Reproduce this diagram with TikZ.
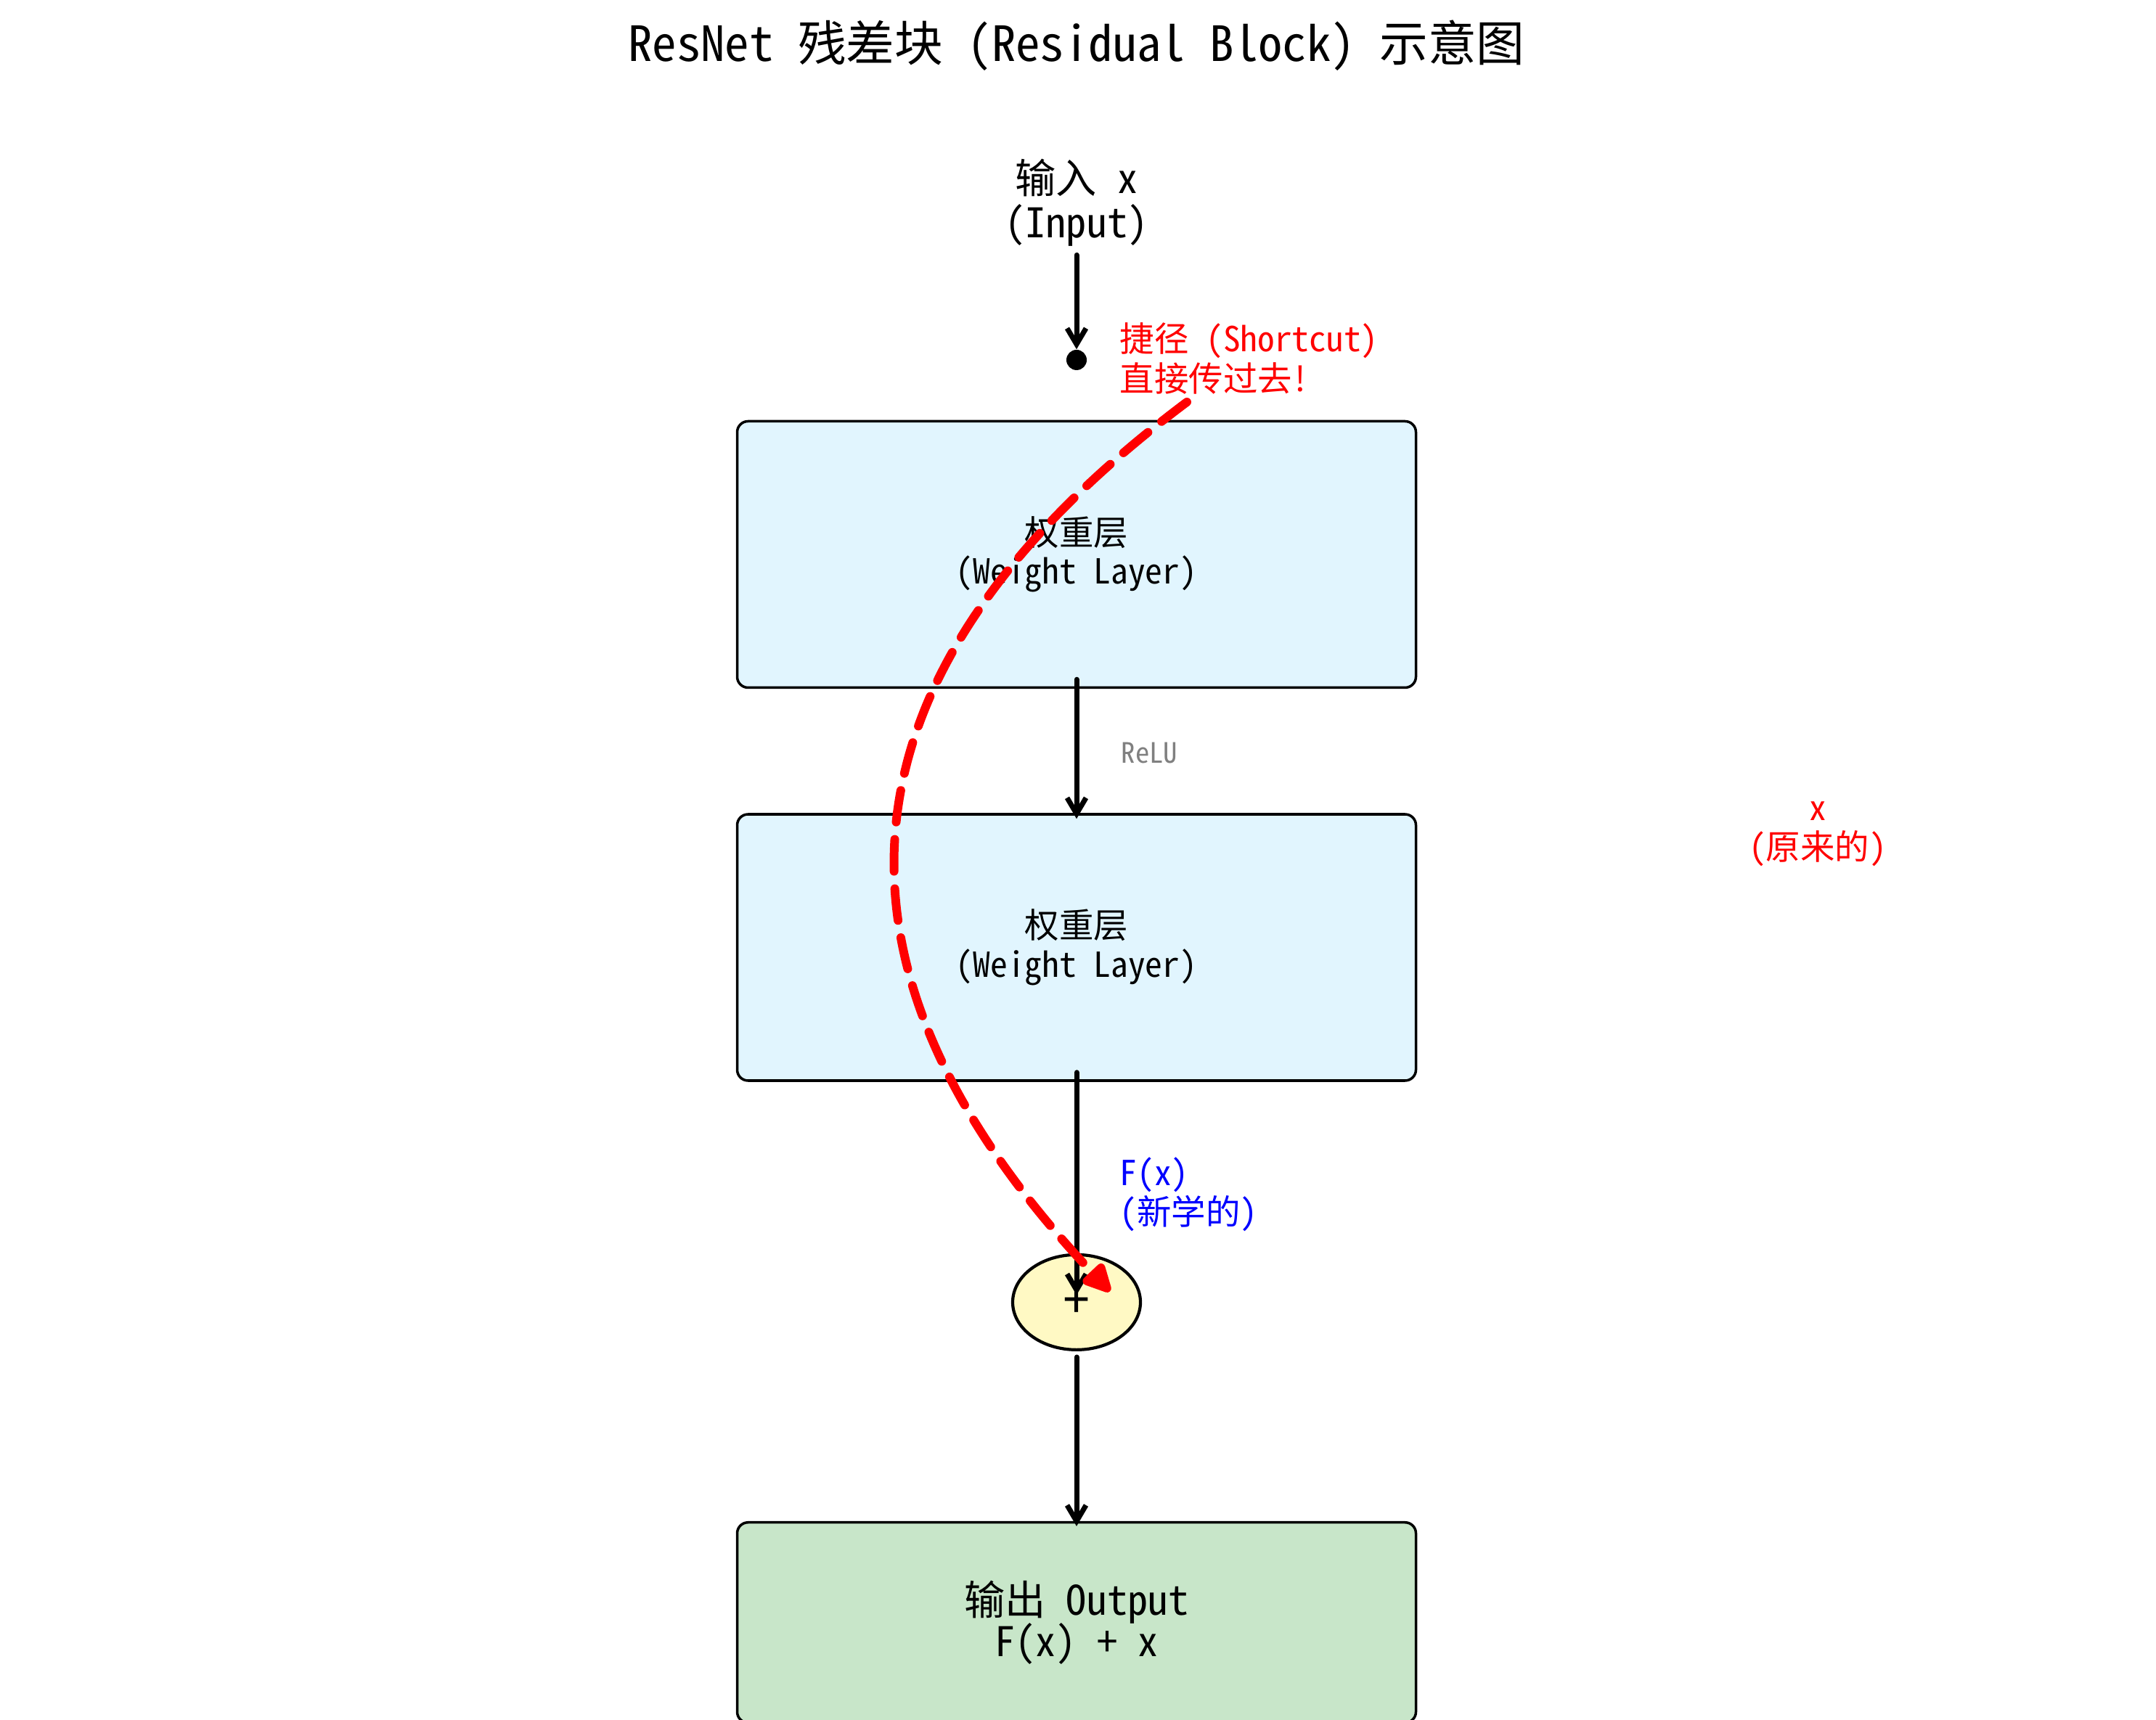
\documentclass[tikz,border=0pt]{standalone}
\usepackage{fontspec}
\setmainfont{Noto Sans CJK SC}[RawFeature={+hwid}]
\usetikzlibrary{positioning,arrows.meta,shapes.geometric}
\definecolor{layerblue}{HTML}{E1F5FE}
\definecolor{outgreen}{HTML}{C8E6C9}
\definecolor{sumyellow}{HTML}{FFF9C4}
\tikzset{
  layer/.style={draw, line width=1pt, rounded corners=1.5mm, fill=layerblue,
    minimum width=9.35cm, minimum height=3.67cm, align=center,
    font=\fontsize{13.5}{15.2}\selectfont},
  note/.style={inner sep=0pt, font=\fontsize{13.5}{15.4}\selectfont},
  flow/.style={-{Straight Barb[length=2.2mm,width=2.6mm]}, line width=2pt, line cap=round},
  shortcut/.style={-{Triangle[length=4.6mm,width=4.2mm,round]}, red, line width=3.4pt,
    dash pattern=on 4.4mm off 2.4mm, line cap=round},
}
\begin{document}
\begin{tikzpicture}
  \useasboundingbox (0,0) rectangle (29.7,23.7);
  \node (title) at (14.83,23.07) {\fontsize{19}{22}\selectfont ResNet 残差块 (Residual Block) 示意图};
  \node (in) [align=center, font=\fontsize{16}{17.3}\selectfont] at (14.83,20.91) {输入 x\\(Input)};
  \node (split) [circle, fill, inner sep=0pt, minimum size=2.8mm] at (14.83,18.74) {};
  \node (w1) [layer] at (14.83,16.06) {权重层\\(Weight Layer)};
  \node (w2) [layer, below=1.71cm of w1] {权重层\\(Weight Layer)};
  \node (sum) [ellipse, draw, line width=1.2pt, fill=sumyellow, minimum width=1.76cm,
    minimum height=1.31cm, inner sep=0pt, below=2.36cm of w2, font=\fontsize{20}{20}\selectfont] {+};
  \node (out) [layer, fill=outgreen, minimum height=2.76cm, below=2.34cm of sum,
    font={\fontsize{16}{16.3}\selectfont\lineskiplimit=-20pt\relax}] {输出 Output\\F(x) + x};
  % labels
  \node (sclabel) [note, anchor=west, align=left, text=red] at (15.42,18.76) {捷径 (Shortcut)\\直接传过去!};
  \node (relu) [note, anchor=west, text=gray, font=\fontsize{11}{12}\selectfont] at (15.44,13.32) {ReLU};
  \node (fx) [note, anchor=west, align=left, text=blue] at (15.42,7.24) {F(x)\\(新学的)};
  \node (orig) [note, align=center, text=red] at (25.04,12.21) {x\\(原来的)};
  % main path
  \draw[flow] (in.south) -- (split.north);
  \draw[flow] ([yshift=1.3mm]w1.south) -- ([yshift=-0.8mm]w2.north);
  \draw[flow] ([yshift=1.3mm]w2.south) -- ([yshift=1mm]sum.center);
  \draw[flow] ([yshift=-0.8mm]sum.south) -- ([yshift=-0.7mm]out.north);
  % shortcut
  \coordinate (scstart) at (16.35,18.16);
  \draw[shortcut] (scstart) .. controls (11.40,14.45) and (11.05,10.40) .. ([shift={(0.46,0.15)}]sum.center);
\end{tikzpicture}
\end{document}
